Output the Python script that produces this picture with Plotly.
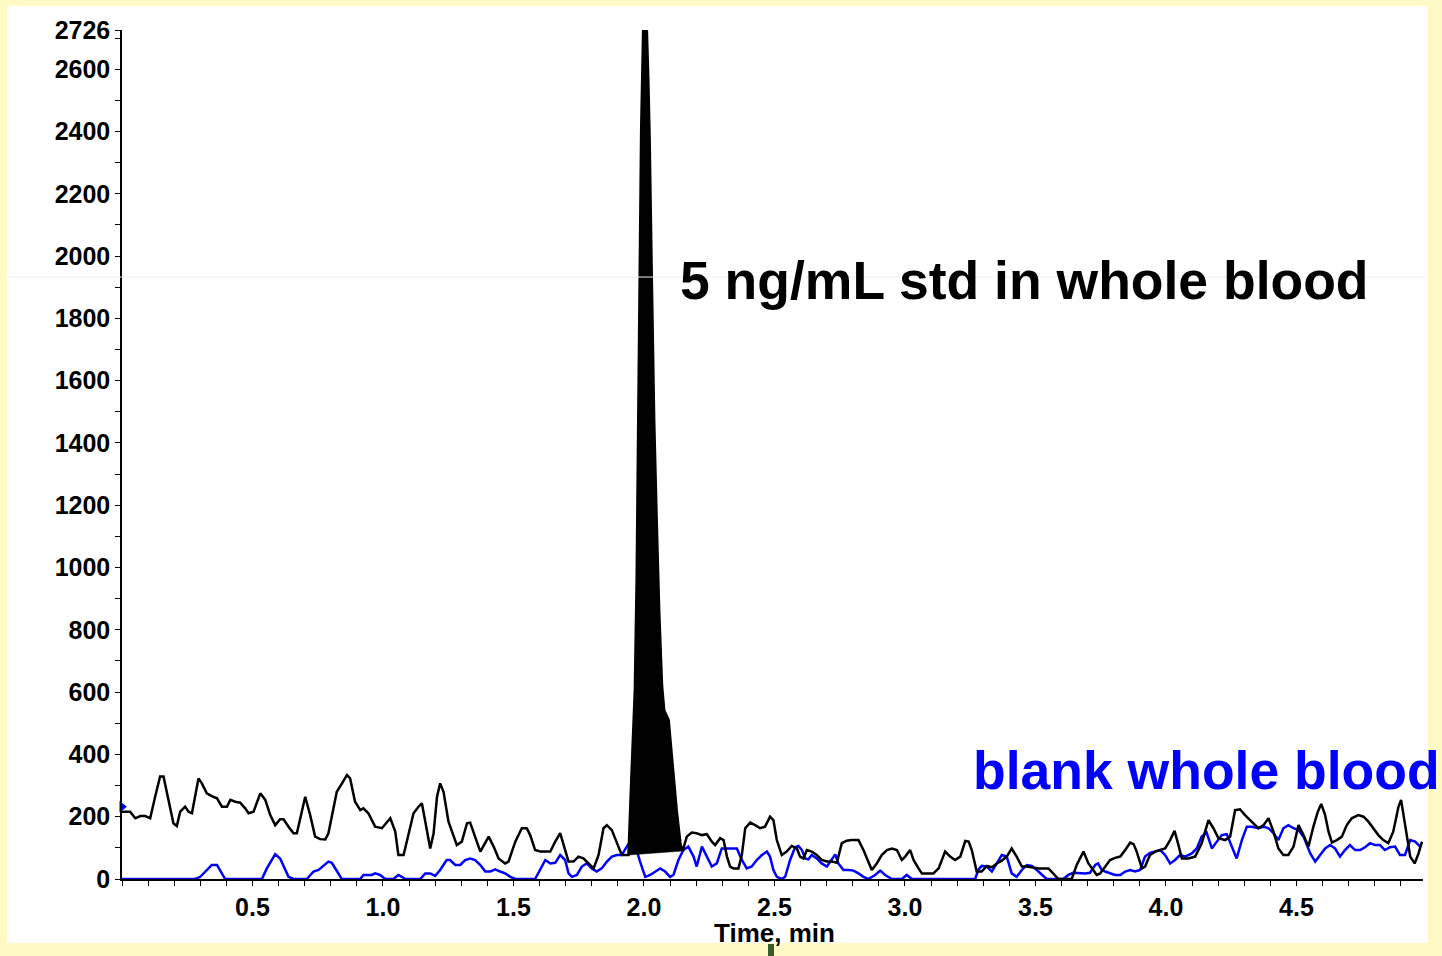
import plotly.graph_objects as go

# ---------------- data ----------------
black_pre_time = [0.000, 0.012, 0.031, 0.051, 0.070, 0.089, 0.108, 0.127, 0.146, 0.159, 0.178, 0.197,
                  0.210, 0.223, 0.242, 0.255, 0.268, 0.293, 0.306, 0.325, 0.344, 0.364, 0.383, 0.402,
                  0.415, 0.434, 0.453, 0.472, 0.485, 0.504, 0.530, 0.549, 0.568, 0.587, 0.606, 0.619,
                  0.638, 0.657, 0.670, 0.702, 0.721, 0.740, 0.759, 0.779, 0.791, 0.823, 0.843, 0.862,
                  0.874, 0.893, 0.913, 0.925, 0.944, 0.970, 0.996, 1.015, 1.028, 1.047, 1.059, 1.079,
                  1.098, 1.117, 1.136, 1.149, 1.168, 1.181, 1.194, 1.207, 1.219, 1.232, 1.251, 1.283,
                  1.302, 1.322, 1.334, 1.347, 1.373, 1.405, 1.424, 1.443, 1.468, 1.481, 1.507, 1.532,
                  1.551, 1.564, 1.583, 1.603, 1.622, 1.641, 1.660, 1.679, 1.698, 1.711, 1.730, 1.749,
                  1.768, 1.787, 1.807, 1.826, 1.845, 1.858, 1.877, 1.902, 1.915, 1.934]
black_pre_signal = [216, 216, 216, 195, 202, 202, 195, 264, 329, 329, 254, 179,
                    170, 216, 232, 216, 211, 323, 307, 275, 266, 259, 232, 232,
                    254, 248, 245, 227, 211, 216, 275, 254, 205, 173, 192, 192,
                    168, 147, 147, 264, 205, 136, 128, 127, 147, 280, 307, 334,
                    323, 248, 221, 227, 211, 168, 163, 184, 195, 152, 77, 77,
                    141, 211, 232, 243, 157, 98, 147, 264, 307, 280, 184, 109,
                    120, 179, 181, 152, 88, 136, 104, 66, 50, 56, 120, 163,
                    163, 141, 93, 88, 88, 88, 120, 147, 93, 56, 56, 72,
                    66, 50, 34, 77, 163, 173, 157, 104, 77, 77]

peak_time = [1.9406, 1.9529, 1.9651, 1.9720, 1.9778, 1.9835, 1.9893, 1.9969, 2.0111, 2.0161,
             2.0218, 2.0295, 2.0391, 2.0487, 2.0582, 2.0690, 2.0774, 2.0946, 2.1080, 2.1253,
             2.1406, 2.1483]
peak_signal = [77, 350, 607, 960, 1473, 1987, 2404, 2726, 2722, 2581,
               2372, 1954, 1473, 1152, 863, 623, 542, 510, 372, 221,
               109, 90]

black_post_time = [2.164, 2.183, 2.202, 2.222, 2.241, 2.260, 2.273, 2.292, 2.305, 2.318, 2.330, 2.343,
                   2.362, 2.375, 2.388, 2.407, 2.426, 2.445, 2.464, 2.483, 2.496, 2.509, 2.528, 2.547,
                   2.566, 2.586, 2.598, 2.611, 2.624, 2.643, 2.662, 2.681, 2.701, 2.720, 2.739, 2.758,
                   2.777, 2.796, 2.822, 2.841, 2.873, 2.892, 2.911, 2.931, 2.950, 2.969, 2.988, 3.001,
                   3.020, 3.033, 3.052, 3.065, 3.090, 3.109, 3.129, 3.154, 3.173, 3.192, 3.212, 3.231,
                   3.244, 3.256, 3.275, 3.294, 3.314, 3.333, 3.352, 3.371, 3.390, 3.409, 3.428, 3.448,
                   3.467, 3.486, 3.512, 3.550, 3.569, 3.588, 3.607, 3.639, 3.658, 3.684, 3.703, 3.720,
                   3.735, 3.748, 3.767, 3.786, 3.805, 3.825, 3.844, 3.863, 3.876, 3.888, 3.908, 3.920,
                   3.939, 3.959, 3.978, 3.997, 4.016, 4.033, 4.048, 4.061, 4.086, 4.112, 4.137, 4.163,
                   4.182, 4.201, 4.227, 4.246, 4.265, 4.284, 4.303, 4.329, 4.354, 4.374, 4.393, 4.412,
                   4.431, 4.450, 4.469, 4.489, 4.508, 4.527, 4.546, 4.565, 4.582, 4.595, 4.610, 4.623,
                   4.636, 4.655, 4.674, 4.693, 4.712, 4.737, 4.757, 4.776, 4.795, 4.814, 4.833, 4.852,
                   4.871, 4.891, 4.901, 4.916, 4.936, 4.953, 4.968, 4.981]
black_post_signal = [136, 149, 147, 141, 144, 120, 109, 131, 125, 72, 40, 34,
                     34, 77, 163, 181, 173, 163, 168, 200, 189, 125, 77, 88,
                     106, 98, 72, 66, 93, 88, 77, 61, 56, 56, 52, 115,
                     123, 125, 125, 93, 29, 50, 77, 93, 98, 93, 61, 72,
                     93, 61, 34, 18, 18, 18, 34, 88, 72, 61, 72, 122,
                     120, 93, 24, 24, 42, 38, 50, 59, 72, 98, 72, 40,
                     40, 38, 34, 34, 18, 0, 0, 0, 45, 88, 50, 30,
                     13, 18, 40, 61, 68, 72, 93, 117, 112, 88, 34, 40,
                     77, 88, 93, 98, 125, 155, 109, 66, 66, 72, 115, 189,
                     163, 131, 125, 136, 221, 224, 205, 184, 163, 173, 195, 152,
                     98, 77, 77, 104, 173, 141, 104, 168, 216, 241, 205, 152,
                     117, 125, 136, 173, 195, 205, 200, 184, 163, 141, 125, 115,
                     152, 232, 254, 179, 72, 50, 82, 120]

blue_time = [0.000, 0.280, 0.300, 0.312, 0.344, 0.364, 0.395, 0.536, 0.555, 0.587, 0.606, 0.638,
             0.657, 0.708, 0.734, 0.753, 0.791, 0.804, 0.842, 0.913, 0.925, 0.957, 0.970, 0.989,
             1.008, 1.040, 1.059, 1.072, 1.085, 1.143, 1.162, 1.181, 1.200, 1.219, 1.244, 1.257,
             1.277, 1.296, 1.315, 1.334, 1.353, 1.373, 1.392, 1.411, 1.430, 1.449, 1.468, 1.488,
             1.507, 1.583, 1.603, 1.622, 1.641, 1.660, 1.679, 1.698, 1.711, 1.724, 1.743, 1.762,
             1.781, 1.800, 1.819, 1.838, 1.858, 1.877, 1.896, 1.915, 1.934, 1.947, 1.960, 1.972,
             1.985, 2.005, 2.024, 2.043, 2.062, 2.081, 2.100, 2.113, 2.132, 2.151, 2.170, 2.190,
             2.202, 2.222, 2.241, 2.260, 2.279, 2.298, 2.318, 2.337, 2.356, 2.375, 2.394, 2.413,
             2.432, 2.452, 2.471, 2.483, 2.496, 2.509, 2.528, 2.541, 2.560, 2.579, 2.592, 2.605,
             2.618, 2.630, 2.643, 2.662, 2.681, 2.701, 2.720, 2.733, 2.745, 2.764, 2.784, 2.803,
             2.822, 2.841, 2.860, 2.886, 2.905, 2.924, 2.950, 2.988, 3.007, 3.026, 3.269, 3.281,
             3.294, 3.314, 3.333, 3.352, 3.371, 3.390, 3.409, 3.428, 3.448, 3.467, 3.486, 3.505,
             3.524, 3.543, 3.607, 3.626, 3.645, 3.671, 3.690, 3.709, 3.729, 3.740, 3.754, 3.767,
             3.786, 3.805, 3.825, 3.844, 3.863, 3.882, 3.901, 3.920, 3.939, 3.959, 3.978, 3.997,
             4.016, 4.035, 4.054, 4.074, 4.099, 4.118, 4.137, 4.156, 4.176, 4.195, 4.214, 4.233,
             4.252, 4.271, 4.291, 4.310, 4.329, 4.354, 4.374, 4.393, 4.412, 4.431, 4.450, 4.469,
             4.489, 4.508, 4.527, 4.553, 4.572, 4.591, 4.610, 4.629, 4.648, 4.667, 4.686, 4.705,
             4.725, 4.744, 4.763, 4.782, 4.801, 4.820, 4.839, 4.859, 4.878, 4.897, 4.916, 4.936,
             4.955, 4.974]
blue_signal = [0, 0, 7, 18, 45, 45, 0, 0, 34, 80, 66, 7,
               0, 0, 24, 29, 56, 52, 0, 0, 13, 13, 18, 13,
               0, 0, 13, 7, 0, 0, 18, 18, 10, 29, 61, 61,
               45, 45, 61, 66, 61, 45, 24, 24, 31, 24, 18, 7,
               0, 0, 34, 61, 50, 52, 77, 61, 18, 7, 13, 40,
               50, 34, 24, 34, 56, 72, 77, 77, 104, 120, 120, 93,
               56, 7, 13, 24, 34, 24, 7, 13, 61, 93, 104, 72,
               40, 104, 72, 40, 50, 98, 98, 98, 98, 61, 34, 40,
               61, 77, 88, 72, 29, 7, 0, 7, 61, 102, 106, 93,
               66, 63, 77, 66, 50, 40, 61, 79, 50, 29, 29, 27,
               18, 7, 0, 13, 27, 13, 0, 0, 13, 0, 0, 29,
               42, 40, 24, 50, 77, 72, 18, 7, 29, 45, 42, 29,
               13, 0, 0, 13, 20, 18, 18, 20, 45, 50, 29, 24,
               18, 13, 13, 24, 29, 24, 29, 72, 84, 88, 93, 77,
               50, 61, 77, 72, 82, 98, 136, 149, 98, 120, 141, 144,
               104, 66, 125, 168, 168, 163, 168, 163, 147, 125, 163, 173,
               163, 157, 136, 82, 56, 77, 98, 109, 98, 72, 93, 109,
               93, 93, 102, 115, 109, 109, 93, 102, 104, 77, 77, 125,
               120, 104]

blue_marker_time = [0.0]
blue_marker_signal = [232]

x_tick_values = [0.5, 1.0, 1.5, 2.0, 2.5, 3.0, 3.5, 4.0, 4.5]
x_tick_labels = ["0.5", "1.0", "1.5", "2.0", "2.5", "3.0", "3.5", "4.0", "4.5"]
y_tick_values = [0, 200, 400, 600, 800, 1000, 1200, 1400, 1600, 1800, 2000, 2200, 2400, 2600, 2726]
y_tick_labels = ["0", "200", "400", "600", "800", "1000", "1200", "1400", "1600", "1800",
                 "2000", "2200", "2400", "2600", "2726"]
x_max = 4.985
y_max = 2726

std_label = "5 ng/mL std in whole blood"
blank_label = "blank whole blood"
x_title = "Time, min"

# ---------------- figure ----------------
W, H = 1442, 956
ML, MR, MT, MB = 122, 19, 30, 77
PW, PH = W - ML - MR, H - MT - MB


def px(xp):
    return (xp - ML) / PW


def py(yp):
    return (H - MB - yp) / PH


FONT = "Liberation Sans, Arial, sans-serif"
YELLOW = "#FFF9C5"
BLUE = "#0000FF"

black_time = black_pre_time + peak_time + black_post_time
black_signal = black_pre_signal + peak_signal + black_post_signal

fig = go.Figure()

fig.add_trace(go.Scatter(x=blue_time, y=blue_signal, mode="lines",
                         line=dict(color=BLUE, width=2.5), hoverinfo="skip", showlegend=False))
fig.add_trace(go.Scatter(x=peak_time + peak_time[:1], y=peak_signal + peak_signal[:1],
                         mode="lines", fill="toself", fillcolor="black",
                         line=dict(color="black", width=0.5), hoverinfo="skip", showlegend=False))
fig.add_trace(go.Scatter(x=black_time, y=black_signal, mode="lines",
                         line=dict(color="black", width=2.5), hoverinfo="skip", showlegend=False))
fig.add_trace(go.Scatter(x=blue_marker_time, y=blue_marker_signal, mode="markers",
                         marker=dict(symbol="triangle-right", size=10, color=BLUE, line=dict(width=0)),
                         cliponaxis=False, hoverinfo="skip", showlegend=False))

tickfont = dict(family=FONT, size=25, color="black", weight="bold")

fig.update_xaxes(range=[0, x_max], showline=True, linecolor="black", linewidth=1.5,
                 ticks="outside", ticklen=5, tickwidth=1.2, tickcolor="black",
                 tickvals=x_tick_values, ticktext=x_tick_labels, tickfont=tickfont,
                 minor=dict(dtick=0.1, tick0=0, ticks="outside", ticklen=5, tickwidth=1.2, tickcolor="black"),
                 showgrid=False, zeroline=False, mirror=False)
fig.update_yaxes(range=[0, y_max], showline=True, linecolor="black", linewidth=1.5,
                 ticks="outside", ticklen=5, tickwidth=1.2, tickcolor="black",
                 tickvals=y_tick_values, ticktext=y_tick_labels, tickfont=tickfont,
                 minor=dict(dtick=100, tick0=0, ticks="outside", ticklen=5, tickwidth=1.2, tickcolor="black"),
                 showgrid=False, zeroline=False)

shapes = [
    dict(type="rect", xref="paper", yref="paper", x0=px(7), x1=px(1428), y0=py(943), y1=py(6),
         fillcolor="white", line=dict(width=0), layer="below"),
    dict(type="line", xref="paper", yref="paper", x0=px(7), x1=px(1428), y0=py(277), y1=py(277),
         line=dict(color="#EFEFEF", width=1), layer="above"),
    dict(type="rect", xref="paper", yref="paper", x0=px(768), x1=px(774), y0=py(956), y1=py(944),
         fillcolor="#3B5A29", line=dict(width=0), layer="above"),
]

annotations = [
    dict(text=std_label, xref="paper", yref="paper", x=px(678), y=py(280), xanchor="left",
         yanchor="middle", showarrow=False,
         font=dict(family=FONT, size=53.5, color="black", weight="bold")),
    dict(text=blank_label, xref="paper", yref="paper", x=px(971), y=py(770), xanchor="left",
         yanchor="middle", showarrow=False,
         font=dict(family=FONT, size=53.5, color=BLUE, weight="bold")),
    dict(text=x_title, xref="paper", yref="paper", x=px(774), y=py(933), xanchor="center",
         yanchor="middle", showarrow=False,
         font=dict(family=FONT, size=26, color="black", weight="bold")),
]

fig.update_layout(width=W, height=H, margin=dict(l=ML, r=MR, t=MT, b=MB, pad=0),
                  paper_bgcolor=YELLOW, plot_bgcolor="white", shapes=shapes,
                  annotations=annotations, showlegend=False)

fig.write_html("out.html", config={"displayModeBar": False},
               post_script="document.body.style.margin='0';document.body.style.background='" + YELLOW + "';")
